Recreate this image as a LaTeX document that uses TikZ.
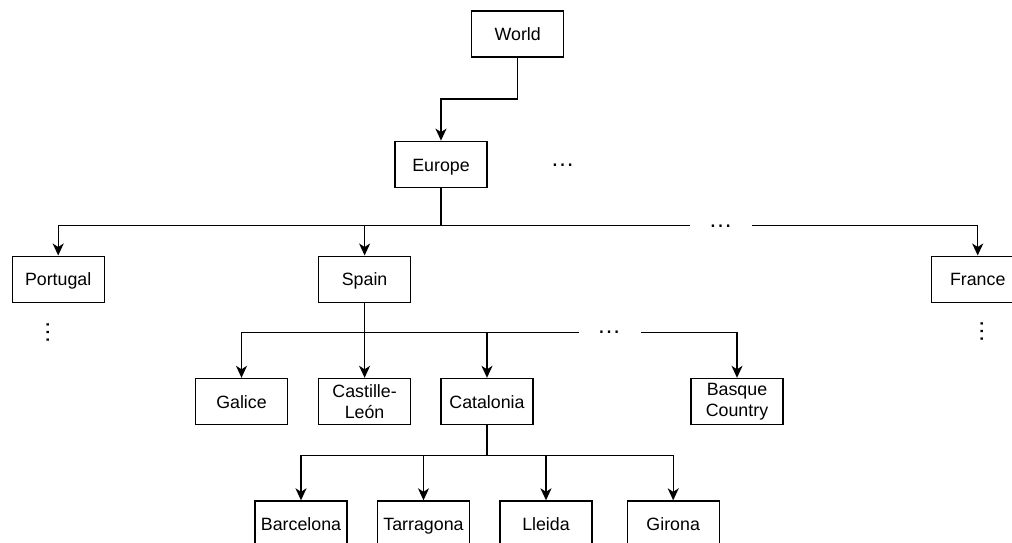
\documentclass[tikz,border=0pt]{standalone}
\usepackage{fontspec}
\setmainfont{Liberation Sans}
\usetikzlibrary{arrows.meta}
\begin{document}
\begin{tikzpicture}[x=1pt,y=-1pt,
  box/.style={draw=black,line width=1.4pt,minimum width=92pt,minimum height=46pt,inner sep=0pt,align=center,
    font=\fontsize{17.8}{21.4}\selectfont},
  onebox/.style={box,text height=17pt,text depth=3.5pt},
  link/.style={line width=1.4pt,draw=black},
  arr/.style={link,-{Stealth[length=12pt,width=11pt,inset=3.5pt]}},
  hdots/.style={font=\fontsize{24}{28}\selectfont,inner sep=0pt,anchor=base},
  gap/.style={fill=white,inner sep=0pt,minimum width=62pt,minimum height=10pt},
  vdots/.style={font=\fontsize{24}{28}\selectfont,inner sep=0pt,anchor=base,rotate=90}]
\useasboundingbox (0,0) rectangle (1012,542);
% nodes
\node[onebox] (world) at (517.7,34) {World};
\node[onebox] (europe) at (441,164.3) {Europe};
\node[onebox] (portugal) at (58.2,279.2) {Portugal};
\node[onebox] (spain) at (364.6,279.2) {Spain};
\node[onebox] (france) at (977.7,279.2) {France};
\node[onebox] (galice) at (241.5,401.5) {Galice};
\node[box] (castille) at (364.6,401.5) {Castille-\\León};
\node[onebox] (catalonia) at (487,401.5) {Catalonia};
\node[box] (basque) at (737,401.5) {Basque\\Country};
\node[onebox] (barcelona) at (301,524) {Barcelona};
\node[onebox] (tarragona) at (423.5,524) {Tarragona};
\node[onebox] (lleida) at (546,524) {Lleida};
\node[onebox] (girona) at (673.2,524) {Girona};
% branch points
\coordinate (wb) at (517.7,99);
\coordinate (eb) at (441,225.7);
\coordinate (sb) at (364.6,332.5);
\coordinate (cb) at (487,455.7);
% connectors
\draw[arr] (world.south) -- (wb) -| (europe.north);
\draw[link] (europe.south) -- (eb);
\draw[arr] (eb) -| (portugal.north);
\draw[arr] (eb) -| (spain.north);
\draw[arr] (eb) -| (france.north);
\draw[link] (spain.south) -- (sb);
\draw[arr] (sb) -| (galice.north);
\draw[arr] (sb) -- (castille.north);
\draw[arr] (sb) -| (catalonia.north);
\draw[arr] (sb) -| (basque.north);
\draw[link] (catalonia.south) -- (cb);
\draw[arr] (cb) -| (barcelona.north);
\draw[arr] (cb) -| (tarragona.north);
\draw[arr] (cb) -| (lleida.north);
\draw[arr] (cb) -| (girona.north);
% ellipsis labels
\node[gap] (gap1) at (721,225.7) {};
\node[hdots] (dots1) at (720.5,227) {…};
\node[gap] (gap2) at (609.5,332.5) {};
\node[hdots] (dots2) at (609,333.8) {…};
\node[hdots] (dots3) at (562.7,166.3) {…};
\node[vdots] (dots4) at (49.2,332) {…};
\node[vdots] (dots5) at (983,331) {…};
\end{tikzpicture}
\end{document}
